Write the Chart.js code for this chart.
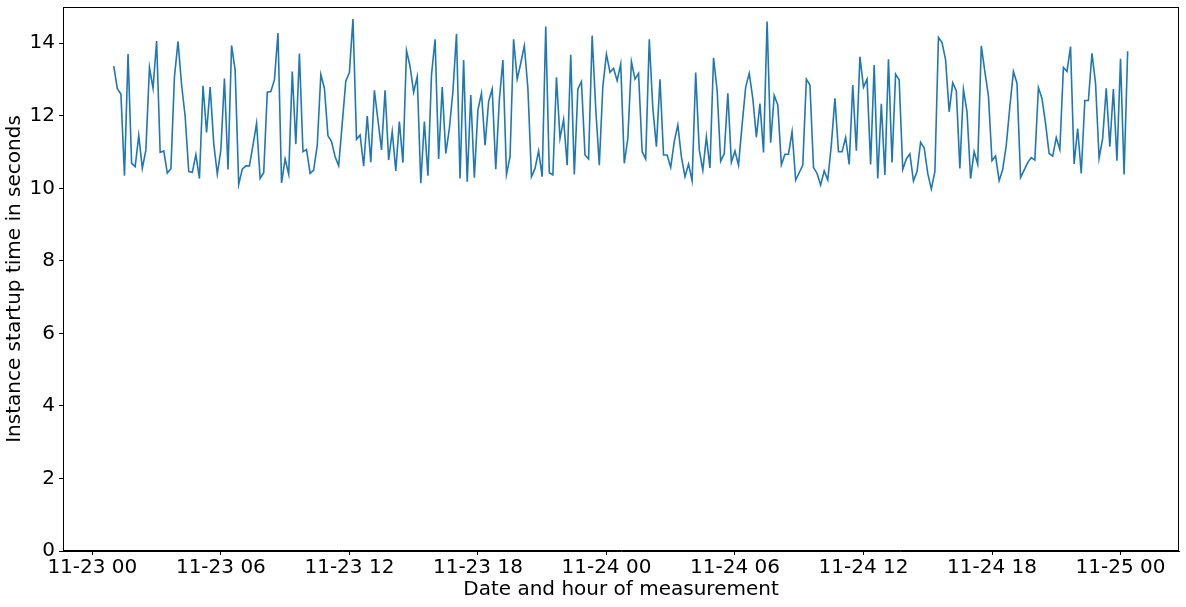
<!DOCTYPE html>
<html lang="en">
<head>
<meta charset="UTF-8">
<title>Instance startup time</title>
<script src="https://cdn.jsdelivr.net/npm/chart.js"></script>
<style>
  html, body { margin: 0; padding: 0; background: #fff; }
  #wrap { width: 1186px; height: 607px; }
</style>
</head>
<body>
<div id="wrap"><canvas id="startupChart" width="1186" height="607"></canvas></div>
<script>
// first measurement, in hours after 11-23 00:00, then one every 10 minutes
const startHour = 1;
const stepMinutes = 10;

const startupSeconds = [
  13.37, 12.75, 12.6, 10.35, 13.7, 10.69, 10.6, 11.46, 10.55, 11.06, 13.33, 12.76, 14.06, 10.99, 11.03,
  10.42, 10.54, 13.08, 14.05, 12.85, 11.98, 10.46, 10.44, 10.93, 10.27, 12.83, 11.54, 12.79, 11.24, 10.39,
  11.06, 13.03, 10.52, 13.94, 13.26, 10.11, 10.53, 10.62, 10.62, 11.19, 11.79, 10.27, 10.43, 12.65, 12.67,
  12.99, 14.28, 10.15, 10.81, 10.39, 13.22, 11.22, 13.72, 11.01, 11.07, 10.41, 10.5, 11.19, 13.14, 12.76,
  11.45, 11.29, 10.87, 10.62, 11.79, 12.96, 13.19, 14.67, 11.35, 11.47, 10.61, 11.99, 10.72, 12.7, 11.88,
  11.06, 12.7, 10.78, 11.56, 10.48, 11.84, 10.71, 13.8, 13.36, 12.65, 13.08, 10.14, 11.84, 10.35, 13.13,
  14.11, 10.81, 12.79, 10.96, 11.65, 12.67, 14.26, 10.27, 13.54, 10.18, 12.57, 10.29, 12.16, 12.62, 11.19,
  12.39, 12.74, 10.53, 12.44, 13.54, 10.38, 10.87, 14.11, 13.01, 13.45, 13.93, 12.76, 10.32, 10.55, 11.03,
  10.32, 14.46, 10.43, 10.37, 13.06, 11.38, 11.9, 10.64, 13.68, 10.38, 12.74, 12.94, 10.92, 10.81, 14.21,
  12.2, 10.64, 12.82, 13.7, 13.2, 13.31, 12.97, 13.43, 10.69, 11.38, 13.49, 13.01, 13.17, 11.01, 10.81,
  14.11, 12.2, 11.15, 13.01, 10.92, 10.92, 10.58, 11.29, 11.75, 10.87, 10.32, 10.67, 10.21, 13.19, 11.06,
  10.5, 11.42, 10.56, 13.6, 12.71, 10.75, 10.96, 12.62, 10.72, 11.03, 10.64, 11.75, 12.79, 13.17, 12.48,
  11.41, 12.34, 10.99, 14.6, 11.26, 12.56, 12.3, 10.65, 10.94, 10.94, 11.56, 10.23, 10.43, 10.64, 13.01,
  12.85, 10.58, 10.41, 10.09, 10.48, 10.23, 11.2, 12.48, 11.01, 11.01, 11.4, 10.66, 12.85, 11.04, 13.63,
  12.79, 13.01, 10.66, 13.4, 10.27, 12.33, 10.37, 13.56, 10.71, 13.15, 12.99, 10.52, 10.81, 10.95, 10.2,
  10.46, 11.27, 11.12, 10.41, 9.98, 10.46, 14.16, 14.02, 13.54, 12.11, 12.91, 12.69, 10.55, 12.73, 12.11,
  10.27, 11.01, 10.67, 13.93, 13.22, 12.55, 10.76, 10.89, 10.21, 10.52, 11.19, 12.25, 13.22, 12.9, 10.3,
  10.5, 10.71, 10.85, 10.78, 12.78, 12.48, 11.79, 10.96, 10.89, 11.4, 11.07, 13.33, 13.22, 13.91, 10.67,
  11.65, 10.41, 12.42, 12.42, 13.72, 12.9, 10.83, 11.38, 12.76, 11.15, 12.74, 10.76, 13.57, 10.38, 13.78
];

const xTickHours = [0, 6, 12, 18, 24, 30, 36, 42, 48];
const xTickLabels = ['11-23 00', '11-23 06', '11-23 12', '11-23 18', '11-24 00',
                     '11-24 06', '11-24 12', '11-24 18', '11-25 00'];
const yTicks = [0, 2, 4, 6, 8, 10, 12, 14];

Chart.defaults.font.family = "'DejaVu Sans', sans-serif";
Chart.defaults.color = '#000';

// matplotlib-like box round the plot area
const frame = {
  id: 'frame',
  afterDraw(chart) {
    const { ctx, chartArea: a } = chart;
    ctx.save();
    ctx.strokeStyle = '#000';
    ctx.lineWidth = 1;
    ctx.strokeRect(a.left + 0.5, a.top + 0.5, a.right - a.left - 1, a.bottom - a.top - 1);
    ctx.restore();
  }
};

const points = startupSeconds.map((v, i) => ({ x: startHour + i * stepMinutes / 60, y: v }));

new Chart(document.getElementById('startupChart'), {
  type: 'line',
  data: {
    datasets: [{
      data: points,
      borderColor: '#1f77b4',
      borderWidth: 1.6,
      pointRadius: 0,
      tension: 0,
      fill: false
    }]
  },
  options: {
    responsive: false,
    animation: false,
    layout: { padding: { top: 7, right: 7, left: 0, bottom: 0 } },
    plugins: { legend: { display: false }, tooltip: { enabled: false } },
    scales: {
      x: {
        type: 'linear',
        min: -1.37,
        max: 50.73,
        afterBuildTicks: s => { s.ticks = xTickHours.map(v => ({ value: v })); },
        afterFit: s => { s.height = 56; },
        ticks: {
          callback: (v, i) => xTickLabels[i],
          font: { size: 20 },
          padding: 1,
          maxRotation: 0,
          autoSkip: false
        },
        grid: { drawOnChartArea: false, drawTicks: true, tickLength: 4, color: '#000' },
        border: { color: '#000' },
        title: {
          display: true,
          text: 'Date and hour of measurement',
          font: { size: 20 },
          padding: { top: 0, bottom: 5 }
        }
      },
      y: {
        min: 0,
        max: 15,
        afterBuildTicks: s => { s.ticks = yTicks.map(v => ({ value: v })); },
        afterFit: s => { s.width = 63; s.paddingTop = 0; s.paddingBottom = 0; },
        ticks: { font: { size: 20 }, padding: 4 },
        grid: { drawOnChartArea: false, drawTicks: true, tickLength: 4, color: '#000' },
        border: { color: '#000' },
        title: {
          display: true,
          text: 'Instance startup time in seconds',
          font: { size: 20 },
          padding: { top: 3, bottom: 0 }
        }
      }
    }
  },
  plugins: [frame]
});
</script>
</body>
</html>
